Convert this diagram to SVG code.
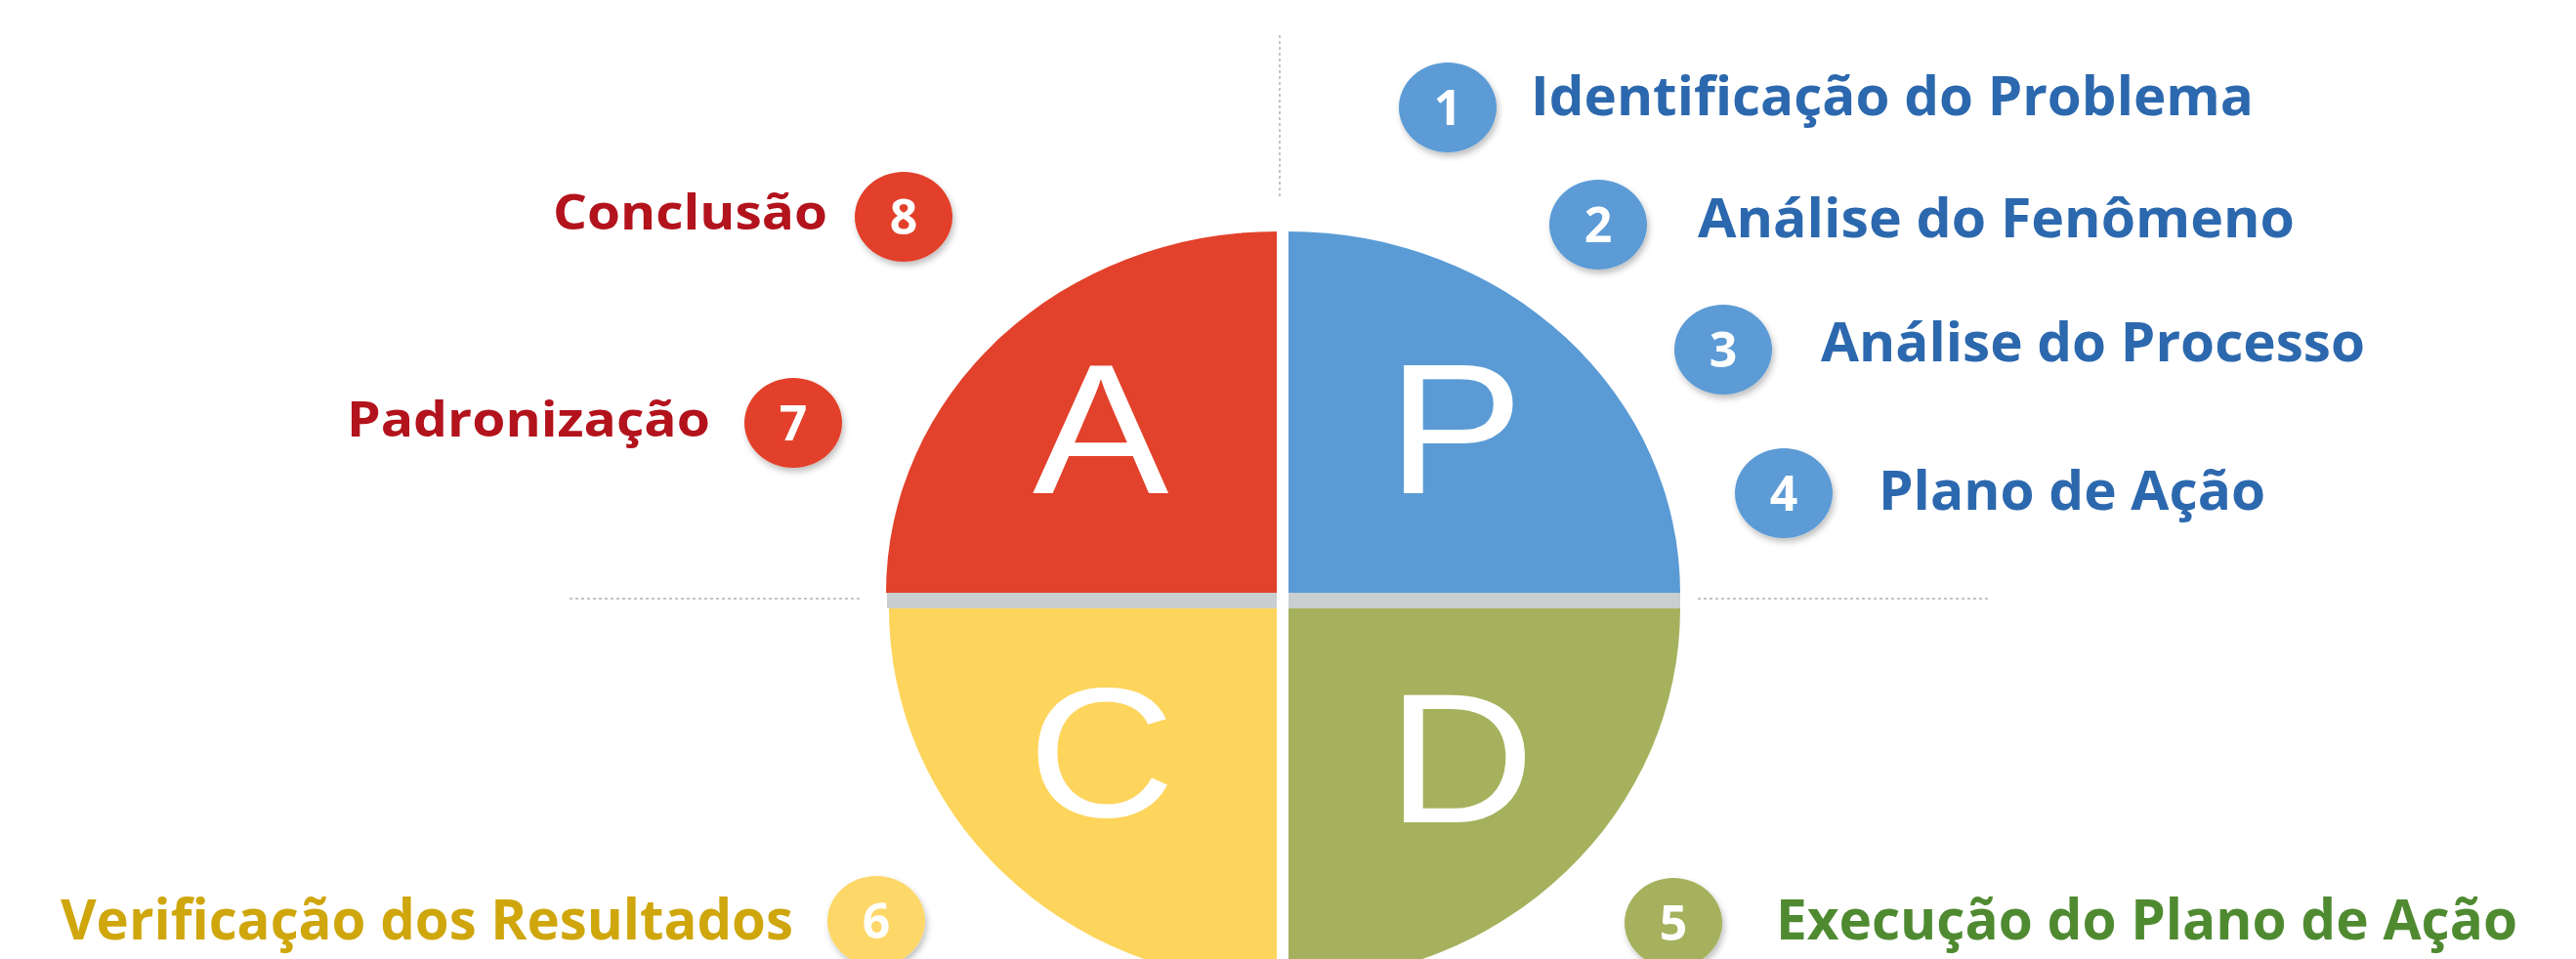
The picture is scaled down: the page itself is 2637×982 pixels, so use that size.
<svg xmlns="http://www.w3.org/2000/svg" width="2637" height="982" viewBox="0 0 2637 982">
<style>
.lbl{font-family:"Open Sans","Liberation Sans",sans-serif;font-weight:700}
.num{font-family:"Open Sans","Liberation Sans",sans-serif;font-weight:700;font-size:50px;fill:#ffffff;text-anchor:middle}
.big{font-family:"Liberation Sans",Arial,sans-serif;font-size:190px;fill:#ffffff}
.guide{stroke:#c4c4c4;stroke-width:2;stroke-dasharray:3 3;fill:none}
.blue{fill:#2c68ae}.red{fill:#b3131c}.gold{fill:#cfa60c}.green{fill:#4f8a31}
</style>
<defs>
<filter id="sh" x="-30%" y="-30%" width="160%" height="160%">
<feDropShadow dx="2" dy="4" stdDeviation="3" flood-color="#000000" flood-opacity="0.25"/>
</filter>
</defs>
<rect width="2637" height="982" fill="#ffffff"/>
<g id="guides">
<line class="guide" x1="1310" y1="36" x2="1310" y2="204"/>
<line class="guide" x1="583" y1="613" x2="882" y2="613"/>
<line class="guide" x1="1738" y1="613" x2="2036" y2="613"/>
</g>
<g id="quarter-A">
<path d="M1307,607 L907,607 A400,370 0 0,1 1307,237 Z" fill="#e2412b"/>
<text class="big" transform="translate(1057,505) scale(1.1,1)">A</text>
</g>
<g id="quarter-P">
<path d="M1319,607 L1319,237 A401,370 0 0,1 1720,607 Z" fill="#5b9bd5"/>
<text class="big" transform="translate(1420,505) scale(1.1,1)">P</text>
</g>
<g id="band">
<rect x="908" y="607" width="399" height="16" fill="#c9cfd0"/>
<rect x="1319" y="607" width="401" height="16" fill="#c9cfd0"/>
</g>
<g id="quarter-C">
<path d="M1307,623 L1307,1005 A397,382 0 0,1 910,623 Z" fill="#fdd55c"/>
<text class="big" transform="translate(1052,836) scale(1.1,1)">C</text>
</g>
<g id="quarter-D">
<path d="M1319,623 L1720,623 A401,382 0 0,1 1319,1005 Z" fill="#a6b15d"/>
<text class="big" transform="translate(1420,842) scale(1.1,1)">D</text>
</g>
<g id="step1">
<ellipse cx="1482" cy="110" rx="50" ry="46" fill="#5b9bd5" filter="url(#sh)"/>
<text class="num" x="1482" y="128">1</text>
<text class="lbl blue" x="1567" y="118" font-size="56" textLength="740" lengthAdjust="spacingAndGlyphs">Identificação do Problema</text>
</g>
<g id="step2">
<ellipse cx="1636" cy="230" rx="50" ry="46" fill="#5b9bd5" filter="url(#sh)"/>
<text class="num" x="1636" y="248">2</text>
<text class="lbl blue" x="1738" y="243" font-size="56" textLength="611" lengthAdjust="spacingAndGlyphs">Análise do Fenômeno</text>
</g>
<g id="step3">
<ellipse cx="1764" cy="358" rx="50" ry="46" fill="#5b9bd5" filter="url(#sh)"/>
<text class="num" x="1764" y="376">3</text>
<text class="lbl blue" x="1864" y="370" font-size="56" textLength="557" lengthAdjust="spacingAndGlyphs">Análise do Processo</text>
</g>
<g id="step4">
<ellipse cx="1826" cy="505" rx="50" ry="46" fill="#5b9bd5" filter="url(#sh)"/>
<text class="num" x="1826" y="523">4</text>
<text class="lbl blue" x="1923" y="522" font-size="56" textLength="396" lengthAdjust="spacingAndGlyphs">Plano de Ação</text>
</g>
<g id="step5">
<ellipse cx="1713" cy="945" rx="50" ry="46" fill="#a6b15d" filter="url(#sh)"/>
<text class="num" x="1713" y="963">5</text>
<text class="lbl green" x="1818" y="962" font-size="58" textLength="759" lengthAdjust="spacingAndGlyphs">Execução do Plano de Ação</text>
</g>
<g id="step6">
<ellipse cx="897" cy="943" rx="50" ry="46" fill="#fdd767" filter="url(#sh)"/>
<text class="num" x="897" y="961">6</text>
<text class="lbl gold" x="62" y="962" font-size="58" textLength="750" lengthAdjust="spacingAndGlyphs">Verificação dos Resultados</text>
</g>
<g id="step7">
<ellipse cx="812" cy="433" rx="50" ry="46" fill="#e2412b" filter="url(#sh)"/>
<text class="num" x="812" y="451">7</text>
<text class="lbl red" x="355" y="447" font-size="51" textLength="372" lengthAdjust="spacingAndGlyphs">Padronização</text>
</g>
<g id="step8">
<ellipse cx="925" cy="222" rx="50" ry="46" fill="#e2412b" filter="url(#sh)"/>
<text class="num" x="925" y="240">8</text>
<text class="lbl red" x="566" y="235" font-size="51" textLength="281" lengthAdjust="spacingAndGlyphs">Conclusão</text>
</g>
</svg>
